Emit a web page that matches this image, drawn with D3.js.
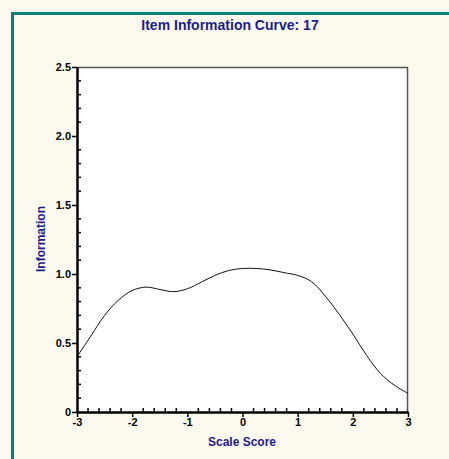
<!DOCTYPE html>
<html>
<head>
<meta charset="utf-8">
<script src="https://cdn.jsdelivr.net/npm/d3@7/dist/d3.min.js"></script>
<style>
  html, body { margin: 0; padding: 0; background: #fdf9ef; }
  svg { display: block; }
</style>
</head>
<body>
<svg id="chart" width="449" height="459"></svg>
<script>
// Item information for item 17 across the scale score range
const scaleScores = [-3, -2.75, -2.5, -2.25, -2, -1.75, -1.5, -1.25, -1, -0.75, -0.5, -0.25,
                     0, 0.25, 0.5, 0.75, 1, 1.25, 1.5, 1.75, 2, 2.25, 2.5, 2.75, 3];
const information = [0.40, 0.55, 0.70, 0.81, 0.88, 0.905, 0.888, 0.872, 0.893, 0.94, 0.99, 1.025,
                     1.04, 1.04, 1.03, 1.01, 0.99, 0.945, 0.84, 0.71, 0.565, 0.41, 0.28, 0.195, 0.135];
const xTickValues = [-3, -2, -1, 0, 1, 2, 3];
const yTickValues = [0, 0.5, 1.0, 1.5, 2.0, 2.5];
const yTickLabels = ["0", "0.5", "1.0", "1.5", "2.0", "2.5"];

const svg = d3.select("#chart");
const font = "Arial, 'Liberation Sans', Helvetica, sans-serif";
const navy = "#1c1c8a";

// teal frame around the panel
svg.append("rect")
  .attr("x", 12.5).attr("y", 13.5)
  .attr("width", 500).attr("height", 500)
  .attr("fill", "#fdf9ef")
  .attr("stroke", "#0b8078").attr("stroke-width", 3);

const plotLeft = 77, plotRight = 408, plotTop = 67, plotBottom = 412;
const x = d3.scaleLinear().domain([-3, 3]).range([plotLeft, plotRight]);
const y = d3.scaleLinear().domain([0, 2.5]).range([plotBottom, plotTop]);

// plot area
svg.append("rect")
  .attr("x", plotLeft).attr("y", plotTop)
  .attr("width", plotRight - plotLeft).attr("height", plotBottom - plotTop)
  .attr("fill", "#ffffff");
svg.append("path")
  .attr("d", `M${plotLeft},${plotTop + 0.5}H${plotRight - 0.5}V${plotBottom}`)
  .attr("fill", "none").attr("stroke", "#555").attr("stroke-width", 1.5);

// curve
const line = d3.line()
  .x((d, i) => x(scaleScores[i]))
  .y(d => y(d))
  .curve(d3.curveCatmullRom.alpha(0.5));
svg.append("path")
  .datum(information)
  .attr("d", line)
  .attr("fill", "none")
  .attr("stroke", "#111")
  .attr("stroke-width", 1);

// minor ticks (inside)
const minorY = d3.range(0, 26).map(i => i / 10).filter(v => !yTickValues.some(t => Math.abs(t - v) < 1e-6));
svg.append("g").selectAll("line").data(minorY).join("line")
  .attr("x1", plotLeft).attr("x2", plotLeft + 4)
  .attr("y1", d => y(d)).attr("y2", d => y(d))
  .attr("stroke", "#000").attr("stroke-width", 1.5);
const minorX = d3.range(0, 31).map(i => -3 + i * 0.2).filter(v => !xTickValues.some(t => Math.abs(t - v) < 1e-6));
svg.append("g").selectAll("line").data(minorX).join("line")
  .attr("x1", d => x(d)).attr("x2", d => x(d))
  .attr("y1", plotBottom).attr("y2", plotBottom - 4)
  .attr("stroke", "#000").attr("stroke-width", 1.5);

// axes with outward major ticks
const yAxis = d3.axisLeft(y).tickValues(yTickValues)
  .tickFormat((d, i) => yTickLabels[i]).tickSize(5).tickPadding(1).tickSizeOuter(0);
const gy = svg.append("g").attr("transform", `translate(${plotLeft},0)`).call(yAxis);
const xAxis = d3.axisBottom(x).tickValues(xTickValues)
  .tickFormat(d => d < 0 ? "-" + Math.abs(d) : String(d)).tickSize(5).tickPadding(1).tickSizeOuter(0);
const gx = svg.append("g").attr("transform", `translate(0,${plotBottom})`).call(xAxis);

[gx, gy].forEach(g => {
  g.select(".domain").attr("stroke", "#000").attr("stroke-width", 2.5);
  g.selectAll(".tick line").attr("stroke", "#000").attr("stroke-width", 1.5);
  g.selectAll("text")
    .attr("fill", "#000")
    .style("font-family", font)
    .style("font-weight", "bold")
    .style("font-size", "11px");
});

// title and axis titles
svg.append("text")
  .attr("x", 230).attr("y", 30)
  .attr("text-anchor", "middle")
  .attr("fill", navy)
  .style("font-family", font).style("font-weight", "bold").style("font-size", "14px")
  .text("Item Information Curve: 17");

svg.append("text")
  .attr("x", 242).attr("y", 446)
  .attr("text-anchor", "middle")
  .attr("fill", navy)
  .style("font-family", font).style("font-weight", "bold").style("font-size", "12px")
  .text("Scale Score");

svg.append("text")
  .attr("transform", `translate(45,239) rotate(-90)`)
  .attr("text-anchor", "middle")
  .attr("fill", navy)
  .style("font-family", font).style("font-weight", "bold").style("font-size", "12px")
  .text("Information");
</script>
</body>
</html>
